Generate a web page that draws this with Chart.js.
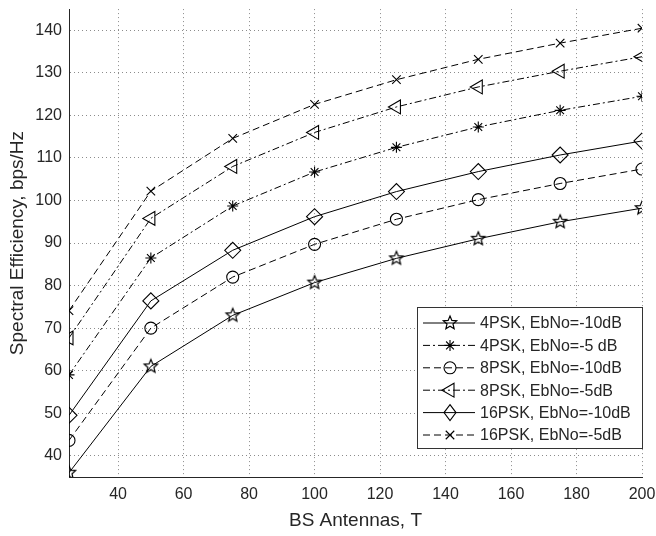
<html>
<body style="margin:0;background:#fff">
<script src="https://cdn.jsdelivr.net/npm/chart.js@4/dist/chart.umd.min.js"></script>
<div style="width:656px;height:536px"><canvas id="c"></canvas></div>
<script>
// data
const antennas = [25, 50, 75, 100, 125, 150, 175, 200];
const psk4_m10 = [36.0, 61.0, 73.0, 80.7, 86.4, 91.0, 95.0, 98.2];
const psk4_m5 = [59.0, 86.5, 98.7, 106.7, 112.5, 117.3, 121.2, 124.5];
const psk8_m10 = [43.6, 70.0, 82.0, 89.7, 95.6, 100.2, 104.0, 107.4];
const psk8_m5 = [67.7, 95.8, 108.0, 116.0, 122.0, 126.7, 130.4, 133.8];
const psk16_m10 = [49.5, 76.4, 88.3, 96.2, 102.1, 106.8, 110.7, 114.0];
const psk16_m5 = [74.1, 102.2, 114.6, 122.6, 128.4, 133.2, 137.0, 140.5];
const seriesNames = ['4PSK, EbNo=-10dB', '4PSK, EbNo=-5 dB', '8PSK, EbNo=-10dB',
  '8PSK, EbNo=-5dB', '16PSK, EbNo=-10dB', '16PSK, EbNo=-5dB'];
const xTicks = [40, 60, 80, 100, 120, 140, 160, 180, 200];
const yTicks = [40, 50, 60, 70, 80, 90, 100, 110, 120, 130, 140];

const FONT = '"Liberation Sans", Arial, sans-serif';
const INK = '#262626';

// five point star marker (chart.js 'star' is an asterisk)
function makeStar(r) {
  let cv = document.createElement('canvas');
  let s = Math.ceil(r * 2 + 4);
  cv.width = s; cv.height = s;
  let g = cv.getContext('2d');
  g.strokeStyle = '#000';
  g.lineWidth = 1.2;
  g.beginPath();
  for (let i = 0; i < 10; i++) {
    let a = -Math.PI / 2 + i * Math.PI / 5;
    let rr = i % 2 ? r * 0.45 : r;
    let px = s / 2 + rr * Math.cos(a), py = s / 2 + rr * Math.sin(a);
    if (i == 0) g.moveTo(px, py); else g.lineTo(px, py);
  }
  g.closePath();
  g.stroke();
  return cv;
}
const starImg = makeStar(7);

const solid = [], dashed = [7, 4], dashDot = [7, 3, 2, 3];

function pts(vals) {
  return antennas.map((x, i) => ({ x: x, y: vals[i] }));
}

function ds(i, vals, dash, style, r, rot) {
  return {
    label: seriesNames[i],
    data: pts(vals),
    borderColor: '#000',
    borderWidth: 1,
    borderDash: dash,
    pointStyle: style,
    pointRadius: r,
    pointRotation: rot || 0,
    pointBorderColor: '#000',
    pointBackgroundColor: 'rgba(0,0,0,0)',
    pointBorderWidth: 1.1,
    pointHoverRadius: r,
    tension: 0,
    fill: false
  };
}

// draw a marker for the legend
function drawMarker(ctx, d, x, y) {
  let r = d.pointRadius, st = d.pointStyle;
  if (st instanceof HTMLCanvasElement) {
    ctx.drawImage(st, x - st.width / 2, y - st.height / 2);
    return;
  }
  ctx.save();
  ctx.setLineDash([]);
  ctx.lineWidth = 1.1;
  ctx.strokeStyle = '#000';
  ctx.beginPath();
  if (st == 'circle') {
    ctx.arc(x, y, r, 0, Math.PI * 2);
  } else if (st == 'rectRot') {
    ctx.moveTo(x, y - r); ctx.lineTo(x + r * 0.75, y); ctx.lineTo(x, y + r); ctx.lineTo(x - r * 0.75, y); ctx.closePath();
  } else if (st == 'triangle') {
    ctx.moveTo(x - r, y); ctx.lineTo(x + r / 2, y - r * 0.866); ctx.lineTo(x + r / 2, y + r * 0.866); ctx.closePath();
  } else if (st == 'crossRot') {
    let o = r * 0.707;
    ctx.moveTo(x - o, y - o); ctx.lineTo(x + o, y + o); ctx.moveTo(x + o, y - o); ctx.lineTo(x - o, y + o);
  } else if (st == 'star') {
    let o = r * 0.707;
    ctx.moveTo(x - o, y - o); ctx.lineTo(x + o, y + o); ctx.moveTo(x + o, y - o); ctx.lineTo(x - o, y + o);
    ctx.moveTo(x, y - r); ctx.lineTo(x, y + r); ctx.moveTo(x - r, y); ctx.lineTo(x + r, y);
  }
  ctx.stroke();
  ctx.restore();
}

const boxLegend = {
  id: 'boxLegend',
  afterDraw(chart) {
    let ctx = chart.ctx;
    let x0 = 417, y0 = 307, w = 225, h = 141;
    ctx.save();
    ctx.fillStyle = '#fff';
    ctx.fillRect(x0, y0, w, h);
    ctx.strokeStyle = '#333';
    ctx.lineWidth = 1;
    ctx.strokeRect(x0 + 0.5, y0 + 0.5, w, h);
    ctx.font = '16px ' + FONT;
    ctx.textBaseline = 'middle';
    chart.data.datasets.forEach((d, i) => {
      let y = y0 + 16 + i * 22.4;
      ctx.strokeStyle = '#000';
      ctx.lineWidth = 1;
      ctx.setLineDash(d.borderDash);
      ctx.beginPath();
      ctx.moveTo(x0 + 6, y);
      ctx.lineTo(x0 + 58, y);
      ctx.stroke();
      ctx.setLineDash([]);
      drawMarker(ctx, d, x0 + 33, y);
      ctx.fillStyle = INK;
      ctx.fillText(d.label, x0 + 63, y + 1);
    });
    ctx.restore();
  }
};

new Chart(document.getElementById('c'), {
  type: 'line',
  data: {
    datasets: [
      ds(0, psk4_m10, solid, starImg, 7),
      ds(1, psk4_m5, dashDot, 'star', 5.5),
      ds(2, psk8_m10, dashed, 'circle', 6),
      ds(3, psk8_m5, dashDot, 'triangle', 8, -90),
      ds(4, psk16_m10, solid, 'rectRot', 8),
      ds(5, psk16_m5, dashed, 'crossRot', 6)
    ]
  },
  options: {
    responsive: true,
    maintainAspectRatio: false,
    animation: false,
    layout: { padding: { top: 8, right: 0, left: 0, bottom: 0 } },
    plugins: { legend: { display: false }, tooltip: { enabled: false } },
    scales: {
      x: {
        type: 'linear',
        min: 25, max: 200,
        afterBuildTicks: s => { s.ticks = xTicks.map(v => ({ value: v })); },
        afterFit: s => { s.height = 59; s.paddingLeft = 0; s.paddingRight = 14; },
        grid: { color: '#8c8c8c', drawTicks: false },
        border: { display: true, color: INK, width: 1, dash: [1, 3] },
        ticks: { color: INK, font: { size: 16, family: FONT }, padding: 8, maxRotation: 0 },
        title: { display: true, text: 'BS Antennas, T', color: INK, font: { size: 19, family: FONT }, padding: { top: 0 } }
      },
      y: {
        min: 35, max: 145,
        afterBuildTicks: s => { s.ticks = yTicks.map(v => ({ value: v })); },
        afterFit: s => { s.width = 69; s.paddingTop = 0; s.paddingBottom = 0; },
        grid: { color: '#8c8c8c', drawTicks: false },
        border: { display: true, color: INK, width: 1, dash: [1, 3] },
        ticks: { color: INK, font: { size: 16, family: FONT }, padding: 7 },
        title: { display: true, text: 'Spectral Efficiency, bps/Hz', color: INK, font: { size: 19, family: FONT }, padding: { top: 6, bottom: 0 } }
      }
    }
  },
  plugins: [boxLegend]
});
</script>
</body>
</html>
